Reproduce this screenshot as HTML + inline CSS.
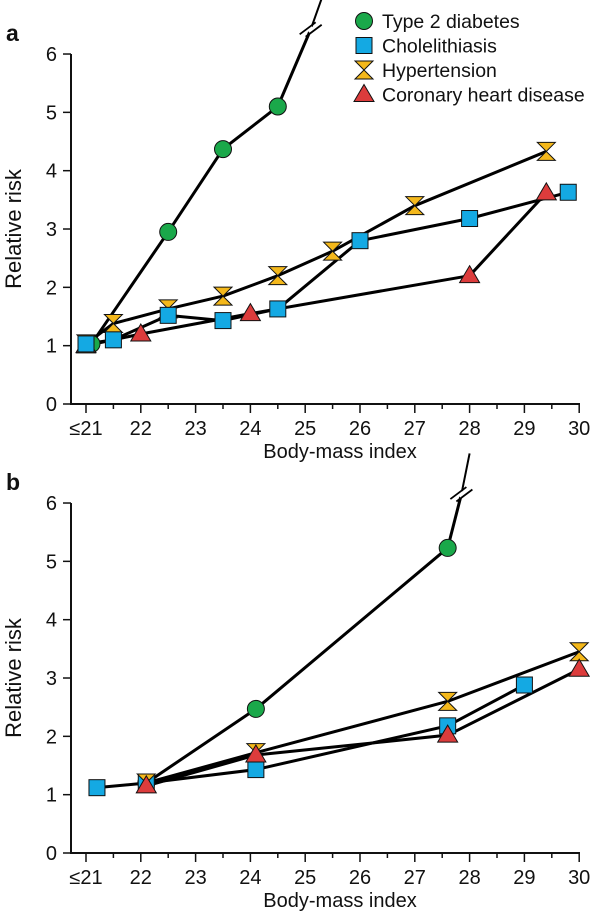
<!DOCTYPE html>
<html><head><meta charset="utf-8"><style>
body{margin:0;background:#fff;}
svg text{font-family:"Liberation Sans",Arial,sans-serif;fill:#111;}
</style></head><body>
<svg id="chart" width="600" height="912" viewBox="0 0 600 912" xmlns="http://www.w3.org/2000/svg"></svg>
<script>
const NS="http://www.w3.org/2000/svg";
const xTickLabels=["≤21","22","23","24","25","26","27","28","29","30"];
const yTickLabels=["0","1","2","3","4","5","6"];
// Panel a data (BMI, relative risk)
const aDiabX=[21.1,22.5,23.5,24.5], aDiabY=[1.03,2.95,4.37,5.1];
const aCholX=[21,21.5,22.5,23.5,24.5,26,28,29.8], aCholY=[1.03,1.1,1.52,1.43,1.63,2.8,3.18,3.63];
const aHypX=[21,21.5,22.5,23.5,24.5,25.5,27,29.4], aHypY=[1.03,1.38,1.63,1.85,2.2,2.62,3.4,4.33];
const aChdX=[21,22,24,28,29.4], aChdY=[1.0,1.2,1.55,2.2,3.62];
// Panel b data
const bDiabX=[22.1,24.1,27.6], bDiabY=[1.2,2.47,5.23];
const bCholX=[21.2,22.1,24.1,27.6,29], bCholY=[1.12,1.2,1.43,2.18,2.88];
const bHypX=[22.1,24.1,27.6,30], bHypY=[1.2,1.72,2.6,3.45];
const bChdX=[22.1,24.1,27.6,30], bChdY=[1.15,1.68,2.02,3.15];

const svg=document.getElementById('chart');
function el(t,a,p){const e=document.createElementNS(NS,t);for(const k in a)e.setAttribute(k,a[k]);(p||svg).appendChild(e);return e;}

function panel(letter,y0,series,breakPt){
  const g=el('g',{});
  
  
  const xs=v=>86+(v-21)*54.8;
  const ys=v=>y0-v*58.33;
  const lab=el('text',{x:6,y:y0-363,'font-size':23,'font-weight':'bold'},g);lab.textContent=letter;
  
  
  el('line',{x1:71,y1:ys(6),x2:71,y2:y0+0.5,stroke:'#111','stroke-width':2},g);
  el('line',{x1:70,y1:y0,x2:580,y2:y0,stroke:'#111','stroke-width':2},g);
  yTickLabels.forEach((t,i)=>{
    el('line',{x1:63,y1:ys(i),x2:71,y2:ys(i),stroke:'#111','stroke-width':1.5},g);
    const tx=el('text',{x:57,y:ys(i)+7,'font-size':20,'text-anchor':'end'},g);tx.textContent=t;
    
    
  });
  xTickLabels.forEach((t,i)=>{
    el('line',{x1:xs(21+i),y1:y0,x2:xs(21+i),y2:y0+9,stroke:'#111','stroke-width':1.5},g);
    if(i<9)el('line',{x1:xs(21.5+i),y1:y0,x2:xs(21.5+i),y2:y0+5,stroke:'#111','stroke-width':1.5},g);
    const tx=el('text',{x:xs(21+i),y:y0+31,'font-size':20,'text-anchor':'middle'},g);tx.textContent=t;
    
    
  });
  const xt=el('text',{x:340,y:y0+54,'font-size':20,'text-anchor':'middle'},g);xt.textContent='Body-mass index';
  
  
  const yt=el('text',{x:0,y:0,'font-size':22,'text-anchor':'middle',transform:`translate(21,${ys(3)}) rotate(-90)`},g);yt.textContent='Relative risk';
  
  
  series.forEach(s=>{
    const pts=s.x.map((v,i)=>xs(v)+','+ys(s.y[i]));
    if(s.brk){pts.push(xs(s.brk[0])+','+ys(s.brk[1]));}
    const pl=el('polyline',{points:pts.join(' '),fill:'none',stroke:'#000','stroke-width':3,'stroke-linejoin':'round'},g);
    
    
    if(s.brk){
      const bx=xs(s.brk[0]),by=ys(s.brk[1]);
      const ex=xs(s.brk[2]),ey=ys(s.brk[3]);
      el('line',{x1:bx,y1:by,x2:ex,y2:ey,stroke:'#000','stroke-width':2},g);
      el('rect',{x:bx-3,y:by-3,width:6,height:6,fill:'#fff',transform:`rotate(-40 ${bx} ${by})`},g);
      [-3,3].forEach(d=>el('line',{x1:bx-8+d,y1:by+6+d*0.4,x2:bx+8+d,y2:by-6+d*0.4,stroke:'#000','stroke-width':1.8},g));
    }
  });
  series.forEach(s=>s.x.forEach((v,i)=>{const m=marker(s.kind,xs(v),ys(s.y[i]),g);
    
    }));
}
function marker(kind,x,y,g){
  if(kind==='circle')return el('circle',{cx:x,cy:y,r:8.5,fill:'#1aa84a',stroke:'#111','stroke-width':1},g);
  if(kind==='square')return el('rect',{x:x-8,y:y-8,width:16,height:16,fill:'#14a9e3',stroke:'#111','stroke-width':1},g);
  if(kind==='hour')return el('polygon',{points:`${x-9},${y-9} ${x+9},${y-9} ${x-9},${y+9} ${x+9},${y+9}`,fill:'#f4b81b',stroke:'#111','stroke-width':1,'stroke-linejoin':'miter'},g);
  return el('polygon',{points:`${x},${y-10} ${x+10},${y+7} ${x-10},${y+7}`,fill:'#dc3c3c',stroke:'#111','stroke-width':1},g);
}
panel('a',404,[
  {name:'type-2-diabetes',kind:'circle',x:aDiabX,y:aDiabY,brk:[25.1,6.42,25.3,6.95]},
  {name:'coronary-heart-disease',kind:'tri',x:aChdX,y:aChdY},
  {name:'hypertension',kind:'hour',x:aHypX,y:aHypY},
  {name:'cholelithiasis',kind:'square',x:aCholX,y:aCholY}
]);
panel('b',853,[
  {name:'type-2-diabetes',kind:'circle',x:bDiabX,y:bDiabY,brk:[27.85,6.15,28,6.85]},
  {name:'cholelithiasis',kind:'square',x:bCholX,y:bCholY},
  {name:'hypertension',kind:'hour',x:bHypX,y:bHypY},
  {name:'coronary-heart-disease',kind:'tri',x:bChdX,y:bChdY}
]);
const lg=el('g',{});


[['circle','Type 2 diabetes'],['square','Cholelithiasis'],['hour','Hypertension'],['tri','Coronary heart disease']].forEach((d,i)=>{
  const y=21+i*24.5;
  const e=el('g',{},lg);
  
  
  marker(d[0],364,y,e);
  const t=el('text',{x:382,y:y+7,'font-size':19.5},e);t.textContent=d[1];
});
</script>
</body></html>
